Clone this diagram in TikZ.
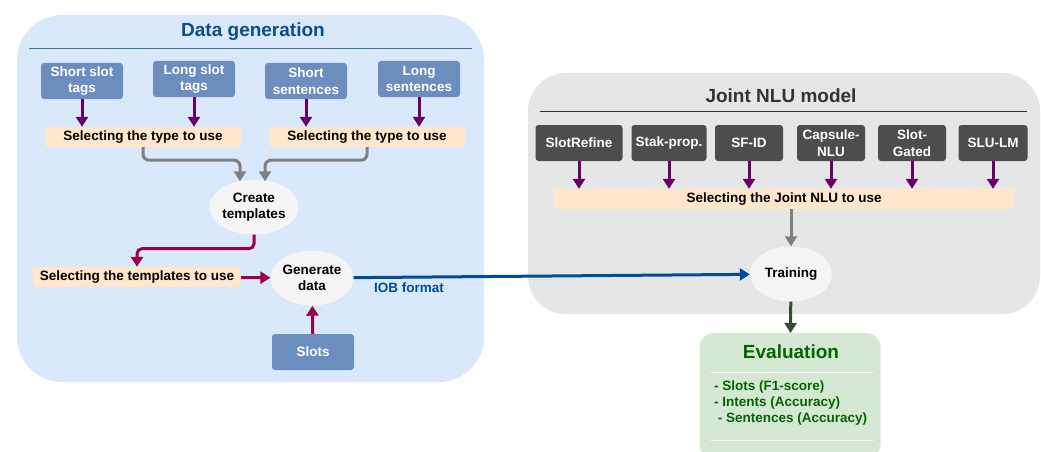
\documentclass[tikz,border=0pt]{standalone}
\usepackage{fontspec}
\setmainfont{Liberation Sans}
\usetikzlibrary{shapes.geometric,arrows.meta,calc}
\definecolor{dgfill}{HTML}{DAE8FC}
\definecolor{dgtitle}{HTML}{0F4C8C}
\definecolor{dgline}{HTML}{3A72B0}
\definecolor{bluebox}{HTML}{6C8EBF}
\definecolor{purp}{HTML}{660066}
\definecolor{crim}{HTML}{99004D}
\definecolor{garrow}{HTML}{808080}
\definecolor{bline}{HTML}{004C99}
\definecolor{darkbox}{HTML}{4D4D4D}
\definecolor{nlufill}{HTML}{E6E6E6}
\definecolor{nlutitle}{HTML}{333333}
\definecolor{ellfill}{HTML}{F5F5F5}
\definecolor{orng}{HTML}{FFE6CC}
\definecolor{evfill}{HTML}{D5E8D4}
\definecolor{evtext}{HTML}{006600}
\definecolor{darrow}{HTML}{334D33}
\tikzset{
  lbl/.style={font=\bfseries\fontsize{13.5}{16.5}\selectfont},
  bluebx/.style={lbl, rectangle, rounded corners=3pt, fill=bluebox, text=white, minimum width=82, minimum height=36, inner sep=0pt, align=center},
  darkbx/.style={lbl, rectangle, rounded corners=3pt, fill=darkbox, text=white, minimum height=36, inner sep=0pt, align=center},
  selbx/.style={lbl, rectangle, rounded corners=2pt, fill=orng, text=black, minimum height=20, inner sep=0pt},
  ellbx/.style={lbl, ellipse, fill=ellfill, text=black, minimum width=82, minimum height=55, inner sep=0pt, align=center},
  tip/.style={-{Triangle[length=10pt,width=12pt]}, line width=3pt},
  parr/.style={tip, draw=purp},
  carr/.style={tip, draw=crim},
  garr/.style={tip, draw=garrow, rounded corners=6pt},
  barr/.style={tip, draw=bline},
  darr/.style={tip, draw=darrow},
  ttl/.style={font=\bfseries\fontsize{19}{21}\selectfont},
}
\begin{document}
\begin{tikzpicture}[x=1pt,y=-1pt]
\useasboundingbox (0,0) rectangle (1041,452);
\clip (0,0) rectangle (1041,452);
% containers
\fill[dgfill, rounded corners=45pt] (17,15) rectangle (484,382);
\node[ttl, text=dgtitle] (dgt) at (253,32) {Data generation};
\draw[dgline, line width=1pt] (29,49) -- (472,49);
\fill[nlufill, rounded corners=38pt] (528,73) rectangle (1040,314);
\node[ttl, text=nlutitle] (nlut) at (781,96) {Joint NLU model};
\draw[nlutitle, line width=1pt] (540,111) -- (1027,111);
% data generation nodes
\node[bluebx] (sst) at (82,81) {Short slot\\tags};
\node[bluebx] (lst) at (194,79) {Long slot\\tags};
\node[bluebx] (ss) at (306,81) {Short\\sentences};
\node[bluebx] (ls) at (419,79) {Long\\sentences};
\node[selbx, minimum width=196] (sel1) at (143,137) {Selecting the type to use};
\node[selbx, minimum width=196] (sel2) at (367,137) {Selecting the type to use};
\node[ellbx] (ct) at (254,207) {Create\\templates};
\node[selbx, minimum width=208] (seltpl) at (137,277) {Selecting the templates to use};
\node[ellbx] (gd) at (312,278) {Generate\\data};
\node[bluebx] (slots) at (313,352) {Slots};
% NLU nodes
\node[darkbx, minimum width=87] (sr) at (579,143) {SlotRefine};
\node[darkbx, minimum width=75] (sp) at (669,143) {Stak-prop.};
\node[darkbx, minimum width=68] (sfid) at (749,143) {SF-ID};
\node[darkbx, minimum width=68] (cap) at (831,143) {Capsule-\\NLU};
\node[darkbx, minimum width=68] (sg) at (912,143) {Slot-\\Gated};
\node[darkbx, minimum width=69] (slu) at (993,143) {SLU-LM};
\node[selbx, minimum width=460] (selnlu) at (784,199) {Selecting the Joint NLU to use};
\node[ellbx] (tr) at (791,274) {Training};
% evaluation
\node[rectangle, rounded corners=14pt, fill=evfill, minimum width=181, minimum height=125, anchor=north] (ev) at (790,333) {};
\node[ttl, text=evtext] (evt) at (791,352) {Evaluation};
\draw[white, line width=1pt] (711,372) -- (873,372);
\draw[white, line width=1pt] (711,440) -- (873,440);
\node[text=evtext, align=left, anchor=north west, inner sep=0pt, font=\bfseries\fontsize{13.5}{16}\selectfont] (evl) at (714,381) {- Slots (F1-score)\\- Intents (Accuracy)\\\ - Sentences (Accuracy)};
% connectors
\foreach \n in {sst,lst,ss,ls}{\draw[parr] (\n) -- (\n |- sel1.north);}
\foreach \n in {sr,sp,sfid,cap,sg,slu}{\draw[parr] (\n) -- (\n |- selnlu.north);}
\draw[garr] (sel1.south) -- ++(0,13) -| ([xshift=-14pt,yshift=-2pt]ct.north);
\draw[garr] (sel2.south) -- ++(0,13) -| ([xshift=11pt,yshift=-2pt]ct.north);
\draw[carr, rounded corners=5pt] (ct.south) -- ++(0,14) -| (seltpl.north);
\draw[carr] (seltpl) -- (gd);
\draw[carr] (slots) -- (gd);
\draw[barr] (gd) -- node[pos=0.14, below=1pt, font=\bfseries\fontsize{13.5}{15}\selectfont, text=bline] {IOB format} (tr);
\draw[garr] (selnlu.south -| tr.north) -- (tr);
\draw[darr] (tr) -- (ev);
\end{tikzpicture}
\end{document}
